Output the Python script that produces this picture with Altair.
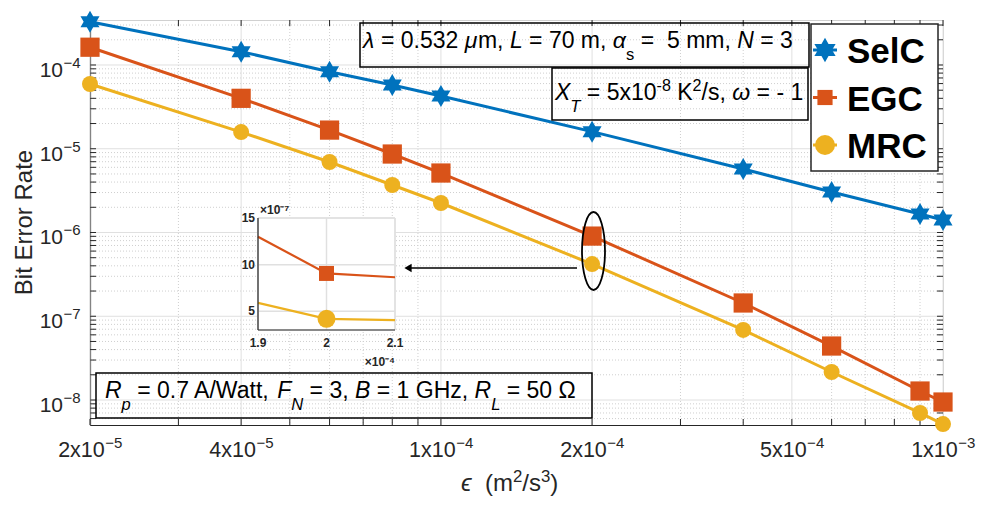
import altair as alt
import pandas as pd

FONT = "Liberation Sans"

# ---------------- data ----------------
series = ["SelC", "EGC", "MRC"]
colors = ["#0072BD", "#D95319", "#EDB120"]

eps = [2e-5, 4e-5, 6e-5, 8e-5, 1e-4, 2e-4, 4e-4, 6e-4, 9e-4, 1e-3]
ber_selc = [3.29e-4, 1.44e-4, 8.32e-5, 5.77e-5, 4.26e-5, 1.60e-5, 5.73e-6, 3.05e-6, 1.66e-6, 1.41e-6]
ber_egc = [1.63e-4, 4.0e-5, 1.67e-5, 8.65e-6, 5.13e-6, 9.06e-7, 1.44e-7, 4.41e-8, 1.28e-8, 9.46e-9]
ber_mrc = [5.93e-5, 1.58e-5, 6.95e-6, 3.69e-6, 2.25e-6, 4.2e-7, 6.86e-8, 2.16e-8, 7.0e-9, 5.16e-9]

x_domain = [2e-5, 1e-3]
y_domain = [5.03e-9, 3.445e-4]
x_ticks = [2e-5, 4e-5, 1e-4, 2e-4, 5e-4, 1e-3]
x_tick_base = ["2x10", "4x10", "1x10", "2x10", "5x10", "1x10"]
x_tick_exp = ["−5", "−5", "−4", "−4", "−4", "−3"]
x_minor = [3e-5, 5e-5, 6e-5, 7e-5, 8e-5, 9e-5, 3e-4, 4e-4, 6e-4, 7e-4, 8e-4, 9e-4]
y_ticks = [1e-8, 1e-7, 1e-6, 1e-5, 1e-4]
y_tick_base = ["10", "10", "10", "10", "10"]
y_tick_exp = ["−8", "−7", "−6", "−5", "−4"]
y_minor = [k * 10.0 ** d for d in range(-9, -3) for k in range(2, 10)
           if y_domain[0] <= k * 10.0 ** d <= y_domain[1]]

inset_eps = [1.9e-4, 2.0e-4, 2.1e-4]
inset_egc = [1.30e-6, 9.06e-7, 8.65e-7]
inset_mrc = [5.90e-7, 4.20e-7, 4.05e-7]
inset_x_domain = [1.9e-4, 2.1e-4]
inset_y_domain = [3e-7, 1.5e-6]
inset_x_ticks = [1.9e-4, 2.0e-4, 2.1e-4]
inset_x_labels = ["1.9", "2", "2.1"]
inset_y_ticks = [5e-7, 1.0e-6, 1.5e-6]
inset_y_labels = ["5", "10", "15"]

x_title = [("ϵ", "i"), ("  (m", "n"), ("2", "sup"), ("/s", "n"), ("3", "sup"), (")", "n")]
y_title = "Bit Error Rate"

note_top = [("λ", "i"), (" = 0.532 ", "n"), ("μ", "i"), ("m, ", "n"), ("L", "i"),
            (" = 70 m, ", "n"), ("α", "i"), ("s", "sub"), (" =", "n"), ("  5 mm, ", "n"),
            ("N", "i"), (" = 3", "n")]
note_mid = [("X", "i"), ("T", "subi"), (" = 5x10", "n"), ("-8", "sup"), (" K", "n"),
            ("2", "sup"), ("/s, ", "n"), ("ω", "i"), (" = - 1", "n")]
note_bottom = [("R", "i"), ("p", "subi"), (" = 0.7 A/Watt, ", "n"), ("F", "i"),
               ("N", "subi"), (" = 3, ", "n"), ("B", "i"), (" = 1 GHz, ", "n"),
               ("R", "i"), ("L", "subi"), (" = 50 Ω", "n")]

# ---------------- helpers ----------------
W = {' ': 278, '=': 584, '.': 278, ',': 278, 'm': 833, 'L': 556, 's': 500, 'N': 722,
     'X': 667, 'T': 611, 'K': 667, '/': 278, 'ω': 781, 'λ': 500, 'μ': 577, 'α': 578,
     '-': 333, 'A': 667, 'W': 944, 'a': 556, 't': 278, 'F': 611, 'B': 667, 'G': 778,
     'H': 722, 'z': 500, 'R': 722, 'p': 556, 'Ω': 768, 'x': 500, '−': 584, 'ϵ': 440,
     '(': 333, ')': 333}


def text_w(t, size):
    return sum(W.get(c, 556) for c in t) / 1000.0 * size


def layout(segs, x0, base, f, color="black"):
    rows = []
    x = x0
    for t, style in segs:
        if style in ("sub", "subi"):
            s, y = f * 0.72, base + 0.52 * f
        elif style == "sup":
            s, y = f * 0.70, base - 0.39 * f
        else:
            s, y = f, base
        italic = style in ("i", "subi")
        lead = len(t) - len(t.lstrip(" "))
        if t.strip():
            rows.append(dict(t=t.strip(), px=x + text_w(" " * lead, s), py=y, fs=s, it=italic,
                             c=color))
        x += text_w(t, s)
    return rows


HEX = ("M0,-1 L0.289,-0.5 L0.866,-0.5 L0.577,0 L0.866,0.5 L0.289,0.5 L0,1 "
       "L-0.289,0.5 L-0.866,0.5 L-0.577,0 L-0.866,-0.5 L-0.289,-0.5 Z")
ELLIPSE = "M0,-1 A0.295,1 0 1,1 0,1 A0.295,1 0 1,1 0,-1 Z"
shapes = [HEX, "square", "circle"]

AX = "#262626"
PW, PH = 853, 405

# ---------------- main plot ----------------
rows = []
for name, vals in zip(series, [ber_selc, ber_egc, ber_mrc]):
    for e, b in zip(eps, vals):
        rows.append({"x": e, "y": b, "series": name})
df = pd.DataFrame(rows)

xs = alt.Scale(type="log", domain=x_domain, nice=False)
ys = alt.Scale(type="log", domain=y_domain, nice=False)

xaxis = alt.Axis(values=x_ticks, labels=False, title=None, grid=False, ticks=False,
                 domainColor=AX, domainWidth=1.2)
yaxis = alt.Axis(values=y_ticks, labels=False, title=y_title, grid=False, ticks=False,
                 titleFont=FONT, titleFontSize=24, titleFontWeight="normal",
                 titleColor=AX, titleX=-66, titleY=202, titleAngle=270, titleAlign="center",
                 titleBaseline="middle", domainColor=AX, domainWidth=1.2)

X = alt.X("x:Q", scale=xs, axis=xaxis)
Y = alt.Y("y:Q", scale=ys, axis=yaxis)

gx_major = alt.Chart(pd.DataFrame({"x": x_ticks})).mark_rule(color="#e0e0e0", strokeWidth=1).encode(x=X)
gx_minor = alt.Chart(pd.DataFrame({"x": x_minor})).mark_rule(
    color="#cfcfcf", strokeWidth=1, strokeDash=[1, 2]).encode(x=X)
gy_major = alt.Chart(pd.DataFrame({"y": y_ticks})).mark_rule(color="#e0e0e0", strokeWidth=1).encode(y=Y)
gy_minor = alt.Chart(pd.DataFrame({"y": y_minor})).mark_rule(
    color="#cfcfcf", strokeWidth=1, strokeDash=[1, 2]).encode(y=Y)

# inward tick marks on all four sides
xt_df = pd.DataFrame({"x": x_ticks + x_minor})
yt_df = pd.DataFrame({"y": y_ticks + y_minor})
tick_layers = [
    alt.Chart(xt_df).mark_rule(color=AX, strokeWidth=1).encode(x=X, y=alt.value(PH), y2=alt.value(PH - 6)),
    alt.Chart(xt_df).mark_rule(color=AX, strokeWidth=1).encode(x=X, y=alt.value(0), y2=alt.value(6)),
    alt.Chart(yt_df).mark_rule(color=AX, strokeWidth=1).encode(y=Y, x=alt.value(0), x2=alt.value(6)),
    alt.Chart(yt_df).mark_rule(color=AX, strokeWidth=1).encode(y=Y, x=alt.value(PW), x2=alt.value(PW - 6)),
]

# tick labels with superscript exponents
xlab_df = pd.DataFrame({"x": x_ticks, "b": x_tick_base, "e": x_tick_exp})
XB, XE = 21.5, 15
x_shift = (text_w("2x10", XB) - text_w("−5", XE)) / 2
xlab_b = alt.Chart(xlab_df).mark_text(font=FONT, fontSize=XB, color=AX, align="right",
                                      baseline="alphabetic", dx=x_shift).encode(
    x=X, y=alt.value(437), text="b:N")
xlab_e = alt.Chart(xlab_df).mark_text(font=FONT, fontSize=XE, color=AX, align="left",
                                      baseline="alphabetic", dx=x_shift + 0.5).encode(
    x=X, y=alt.value(428), text="e:N")

ylab_df = pd.DataFrame({"y": y_ticks, "b": y_tick_base, "e": y_tick_exp})
ylab_b = alt.Chart(ylab_df).mark_text(font=FONT, fontSize=21, color=AX, align="right",
                                      baseline="alphabetic", dy=12).encode(
    x=alt.value(-27), y=Y, text="b:N")
ylab_e = alt.Chart(ylab_df).mark_text(font=FONT, fontSize=15, color=AX, align="left",
                                      baseline="alphabetic", dy=3).encode(
    x=alt.value(-26.5), y=Y, text="e:N")

lines = alt.Chart(df).mark_line(strokeWidth=3).encode(
    x=X, y=Y,
    stroke=alt.Stroke("series:N", scale=alt.Scale(domain=series, range=colors), legend=None),
)

points = alt.Chart(df).mark_point(filled=True, opacity=1).encode(
    x=X, y=Y,
    fill=alt.Fill("series:N", scale=alt.Scale(domain=series, range=colors), legend=None),
    shape=alt.Shape("series:N", scale=alt.Scale(domain=series, range=shapes), legend=None),
    size=alt.Size("series:N", scale=alt.Scale(domain=series, range=[484, 256, 372]), legend=None),
)

main = alt.layer(gx_minor, gy_minor, gx_major, gy_major, *tick_layers, xlab_b, xlab_e,
                 ylab_b, ylab_e, lines, points)

# ---------------- inset ----------------
ixs = alt.Scale(domain=inset_x_domain, range=[168, 305], nice=False, zero=False)
iys = alt.Scale(domain=inset_y_domain, range=[310, 198], nice=False, zero=False)
IX = lambda f: alt.X(f"{f}:Q", scale=ixs, axis=None)
IY = lambda f: alt.Y(f"{f}:Q", scale=iys, axis=None)
IX2 = lambda f: alt.X2(f"{f}:Q")
IY2 = lambda f: alt.Y2(f"{f}:Q")

frame = pd.DataFrame({"x0": [inset_x_domain[0]], "x1": [inset_x_domain[1]],
                      "y0": [inset_y_domain[0]], "y1": [inset_y_domain[1]]})
ibg = alt.Chart(frame).mark_rect(fill="white", stroke="#d9d9d9", strokeWidth=1).encode(
    x=IX("x0"), x2=IX2("x1"), y=IY("y0"), y2=IY2("y1"))

vg = pd.DataFrame({"x": inset_x_ticks, "y0": inset_y_domain[0], "y1": inset_y_domain[1]})
hg = pd.DataFrame({"y": inset_y_ticks, "x0": inset_x_domain[0], "x1": inset_x_domain[1]})
ivgrid = alt.Chart(vg).mark_rule(color="#e0e0e0", strokeWidth=1.5).encode(
    x=IX("x"), y=IY("y0"), y2=IY2("y1"))
ihgrid = alt.Chart(hg).mark_rule(color="#e0e0e0", strokeWidth=1.5).encode(
    y=IY("y"), x=IX("x0"), x2=IX2("x1"))

iegc = alt.Chart(pd.DataFrame({"x": inset_eps, "y": inset_egc})).mark_line(
    color=colors[1], strokeWidth=2.2).encode(x=IX("x"), y=IY("y"))
imrc = alt.Chart(pd.DataFrame({"x": inset_eps, "y": inset_mrc})).mark_line(
    color=colors[2], strokeWidth=2.2).encode(x=IX("x"), y=IY("y"))
iegc_pt = alt.Chart(pd.DataFrame({"x": [inset_eps[1]], "y": [inset_egc[1]]})).mark_point(
    shape="square", filled=True, opacity=1, color=colors[1], size=225).encode(x=IX("x"), y=IY("y"))
imrc_pt = alt.Chart(pd.DataFrame({"x": [inset_eps[1]], "y": [inset_mrc[1]]})).mark_point(
    shape="circle", filled=True, opacity=1, color=colors[2], size=324).encode(x=IX("x"), y=IY("y"))

ileft = alt.Chart(frame).mark_rule(color=AX, strokeWidth=1.2).encode(
    x=IX("x0"), y=IY("y0"), y2=IY2("y1"))
ibottom = alt.Chart(frame).mark_rule(color=AX, strokeWidth=1.2).encode(
    y=IY("y0"), x=IX("x0"), x2=IX2("x1"))

iylab = alt.Chart(pd.DataFrame({"y": inset_y_ticks, "t": inset_y_labels,
                                "x": inset_x_domain[0]})).mark_text(
    font=FONT, fontSize=12, fontWeight="bold", color=AX, align="right", baseline="middle", dx=-3
).encode(x=IX("x"), y=IY("y"), text="t:N")
ixlab = alt.Chart(pd.DataFrame({"x": inset_x_ticks, "t": inset_x_labels,
                                "y": inset_y_domain[0]})).mark_text(
    font=FONT, fontSize=12, fontWeight="bold", color=AX, align="center", baseline="middle", dy=13
).encode(x=IX("x"), y=IY("y"), text="t:N")
iexp_y = alt.Chart(pd.DataFrame({"x": [inset_x_domain[0]], "y": [inset_y_domain[1]], "t": ["×10⁻⁷"]})).mark_text(
    font=FONT, fontSize=12, fontWeight="bold", color=AX, align="left", baseline="middle", dx=2, dy=-8
).encode(x=IX("x"), y=IY("y"), text="t:N")
iexp_x = alt.Chart(pd.DataFrame({"x": [inset_x_domain[1]], "y": [inset_y_domain[0]], "t": ["×10⁻⁴"]})).mark_text(
    font=FONT, fontSize=12, fontWeight="bold", color=AX, align="right", baseline="middle", dy=32
).encode(x=IX("x"), y=IY("y"), text="t:N")

inset = alt.layer(ibg, ivgrid, ihgrid, iegc, imrc, iegc_pt, imrc_pt, ileft, ibottom,
                  iylab, ixlab, iexp_y, iexp_x)

# ---------------- annotations ----------------
one = pd.DataFrame({"k": [0]})


def box(x0, x1, y0, y1, fill=None):
    if fill is None:
        m = alt.Chart(one).mark_rect(fillOpacity=0, stroke="black", strokeWidth=1.5)
    else:
        m = alt.Chart(one).mark_rect(fill=fill, stroke=AX, strokeWidth=1.5)
    return m.encode(x=alt.value(x0), x2=alt.value(x1), y=alt.value(y0), y2=alt.value(y1))


txt_rows = (layout(note_top, 273, 28, 23) + layout(note_mid, 465, 80, 23)
            + layout(note_bottom, 15, 378, 23) + layout(x_title, 371, 471, 24, AX))
tdf = pd.DataFrame(txt_rows)
TX = alt.X("px:Q", scale=None, axis=None)
TY = alt.Y("py:Q", scale=None, axis=None)
TC = alt.Color("c:N", scale=None)
t_norm = alt.Chart(tdf[~tdf["it"]]).mark_text(font=FONT, align="left",
                                                baseline="alphabetic").encode(
    x=TX, y=TY, text="t:N", color=TC, size=alt.Size("fs:Q", scale=None))
t_ital = alt.Chart(tdf[tdf["it"]]).mark_text(font=FONT, align="left",
                                               baseline="alphabetic", fontStyle="italic").encode(
    x=TX, y=TY, text="t:N", color=TC, size=alt.Size("fs:Q", scale=None))

ellipse = alt.Chart(one).mark_point(shape=ELLIPSE, filled=False, stroke="black", strokeWidth=1.8,
                                    size=6084, opacity=1).encode(x=alt.value(503.5), y=alt.value(231))
arrow_line = alt.Chart(one).mark_rule(color="black", strokeWidth=1.5).encode(
    x=alt.value(318), x2=alt.value(487), y=alt.value(248))
arrow_head = alt.Chart(one).mark_point(shape="triangle-left", filled=True, color="black",
                                       size=70, opacity=1).encode(x=alt.value(318), y=alt.value(248))

# legend (drawn as marks)
legend_layers = [box(721, 848, 4, 151, fill="white")]
leg_sizes = [600, 230, 400]
for i, (name, col, shp, sz) in enumerate(zip(series, colors, shapes, leg_sizes)):
    cy = 30 + i * 47.5
    legend_layers.append(alt.Chart(one).mark_rule(color=col, strokeWidth=3).encode(
        x=alt.value(723), x2=alt.value(747), y=alt.value(cy)))
    legend_layers.append(alt.Chart(one).mark_point(shape=shp, filled=True, color=col, opacity=1,
                                                   size=sz).encode(x=alt.value(735), y=alt.value(cy)))
    legend_layers.append(alt.Chart(one).mark_text(text=name, font=FONT, fontSize=35, fontWeight="bold",
                                                  color="black", align="left", baseline="alphabetic").encode(
        x=alt.value(757), y=alt.value(cy + 13)))

annot = alt.layer(box(270, 719, 3, 47), box(462, 718, 48, 100), box(6, 502, 353, 398),
                  ellipse, arrow_line, arrow_head, t_norm, t_ital, *legend_layers)

chart = alt.layer(main, inset, annot).resolve_scale(
    x="independent", y="independent"
).properties(
    width=PW, height=PH,
    padding={"left": 82, "top": 12, "right": 38, "bottom": 73},
    autosize=alt.AutoSizeParams(type="none"),
).configure_view(stroke="#d0d0d0")

chart.save("out.html", embed_options={"renderer": "svg", "actions": False})
